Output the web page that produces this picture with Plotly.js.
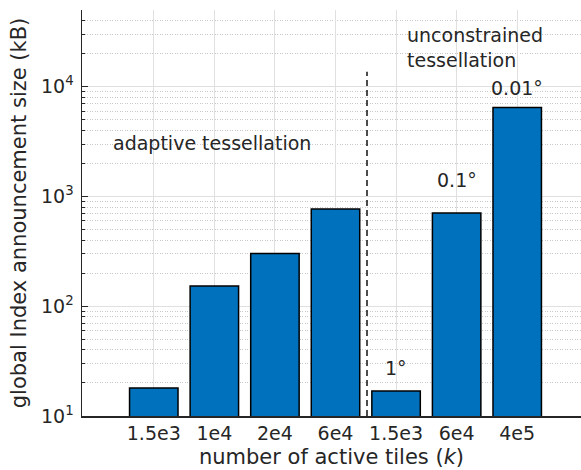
<!DOCTYPE html>
<html>
<head>
<meta charset="utf-8">
<script src="https://cdn.plot.ly/plotly-3.0.1.min.js"></script>
<style>html,body{margin:0;padding:0;background:#fff;}#chart{width:581px;height:470px;}</style>
</head>
<body>
<div id="chart"></div>
<script>
// ---- data ----
const positions = [1, 2, 3, 4, 5, 6, 7];
const tileLabels = ["1.5e3", "1e4", "2e4", "6e4", "1.5e3", "6e4", "4e5"];
const sizesKB = [18, 153, 303, 767, 16.9, 706, 6470];
const resolutionLabels = ["1°", "0.1°", "0.01°"];
const resolutionX = [5, 6, 7];
const resolutionY = [27.4, 1410, 9700];
const separatorX = [4.52, 4.52];
const separatorY = [10, 13700];
const yTickVals = [10, 100, 1000, 10000];
const yTickText = ["10<sup>1</sup>", "10<sup>2</sup>", "10<sup>3</sup>", "10<sup>4</sup>"];

const FONT = "DejaVu Sans, sans-serif";
const INK = "#262626";

const bars = {
  type: "bar",
  x: positions,
  y: sizesKB,
  width: 0.8,
  marker: {color: "#0072BD", line: {color: "#000000", width: 1.5}},
  hoverinfo: "skip",
  showlegend: false
};
const separator = {
  type: "scatter",
  mode: "lines",
  x: separatorX,
  y: separatorY,
  line: {color: "#000000", width: 1.4, dash: "6px,4px"},
  hoverinfo: "skip",
  showlegend: false
};

const annotations = resolutionLabels.map((t, i) => ({
  x: resolutionX[i], y: Math.log10(resolutionY[i]), xref: "x", yref: "y",
  text: t, showarrow: false, xanchor: "center", yanchor: "middle",
  font: {family: FONT, size: 19, color: INK}
}));
annotations.push({
  x: 1.956, y: Math.log10(3100), xref: "x", yref: "y",
  text: "adaptive tessellation", showarrow: false, xanchor: "center", yanchor: "middle",
  font: {family: FONT, size: 19, color: INK}
});
annotations.push({
  x: 5.147, y: Math.log10(23000), xref: "x", yref: "y",
  text: "unconstrained<br>tessellation", showarrow: false, xanchor: "left", yanchor: "middle", align: "left",
  font: {family: FONT, size: 19, color: INK}
});

const layout = {
  width: 581, height: 470,
  margin: {l: 82, r: 0, t: 10, b: 54, pad: 0},
  paper_bgcolor: "#ffffff", plot_bgcolor: "#ffffff",
  font: {family: FONT, color: INK},
  bargap: 0.2,
  xaxis: {
    type: "linear",
    range: [-0.185, 8.053],
    tickvals: positions,
    ticktext: tileLabels,
    tickfont: {family: FONT, size: 19, color: INK},
    showgrid: true, gridcolor: "#e0e0e0", gridwidth: 1,
    zeroline: false,
    showline: true, linecolor: INK, linewidth: 1.5,
    ticks: "", automargin: false,
    title: {text: "number of active tiles (<i>k</i>)", font: {family: FONT, size: 21, color: INK}, standoff: 6}
  },
  yaxis: {
    type: "log",
    range: [1, Math.log10(50000)],
    tickvals: yTickVals,
    ticktext: yTickText,
    tickfont: {family: FONT, size: 19, color: INK},
    ticklabelstandoff: 3,
    showgrid: true, gridcolor: "#e0e0e0", gridwidth: 1,
    zeroline: false,
    showline: true, linecolor: INK, linewidth: 1.5,
    ticks: "inside", ticklen: 6, tickcolor: INK, tickwidth: 1,
    minor: {dtick: "D1", showgrid: true, gridcolor: "#c8c8c8", griddash: "1px,1.5px", gridwidth: 1,
            ticks: "inside", ticklen: 3, tickcolor: INK},
    automargin: false,
    title: {text: "global Index announcement size (kB)", font: {family: FONT, size: 21, color: INK}, standoff: 8}
  },
  annotations: annotations
};

Plotly.newPlot("chart", [bars, separator], layout, {staticPlot: true, displayModeBar: false});
</script>
</body>
</html>
